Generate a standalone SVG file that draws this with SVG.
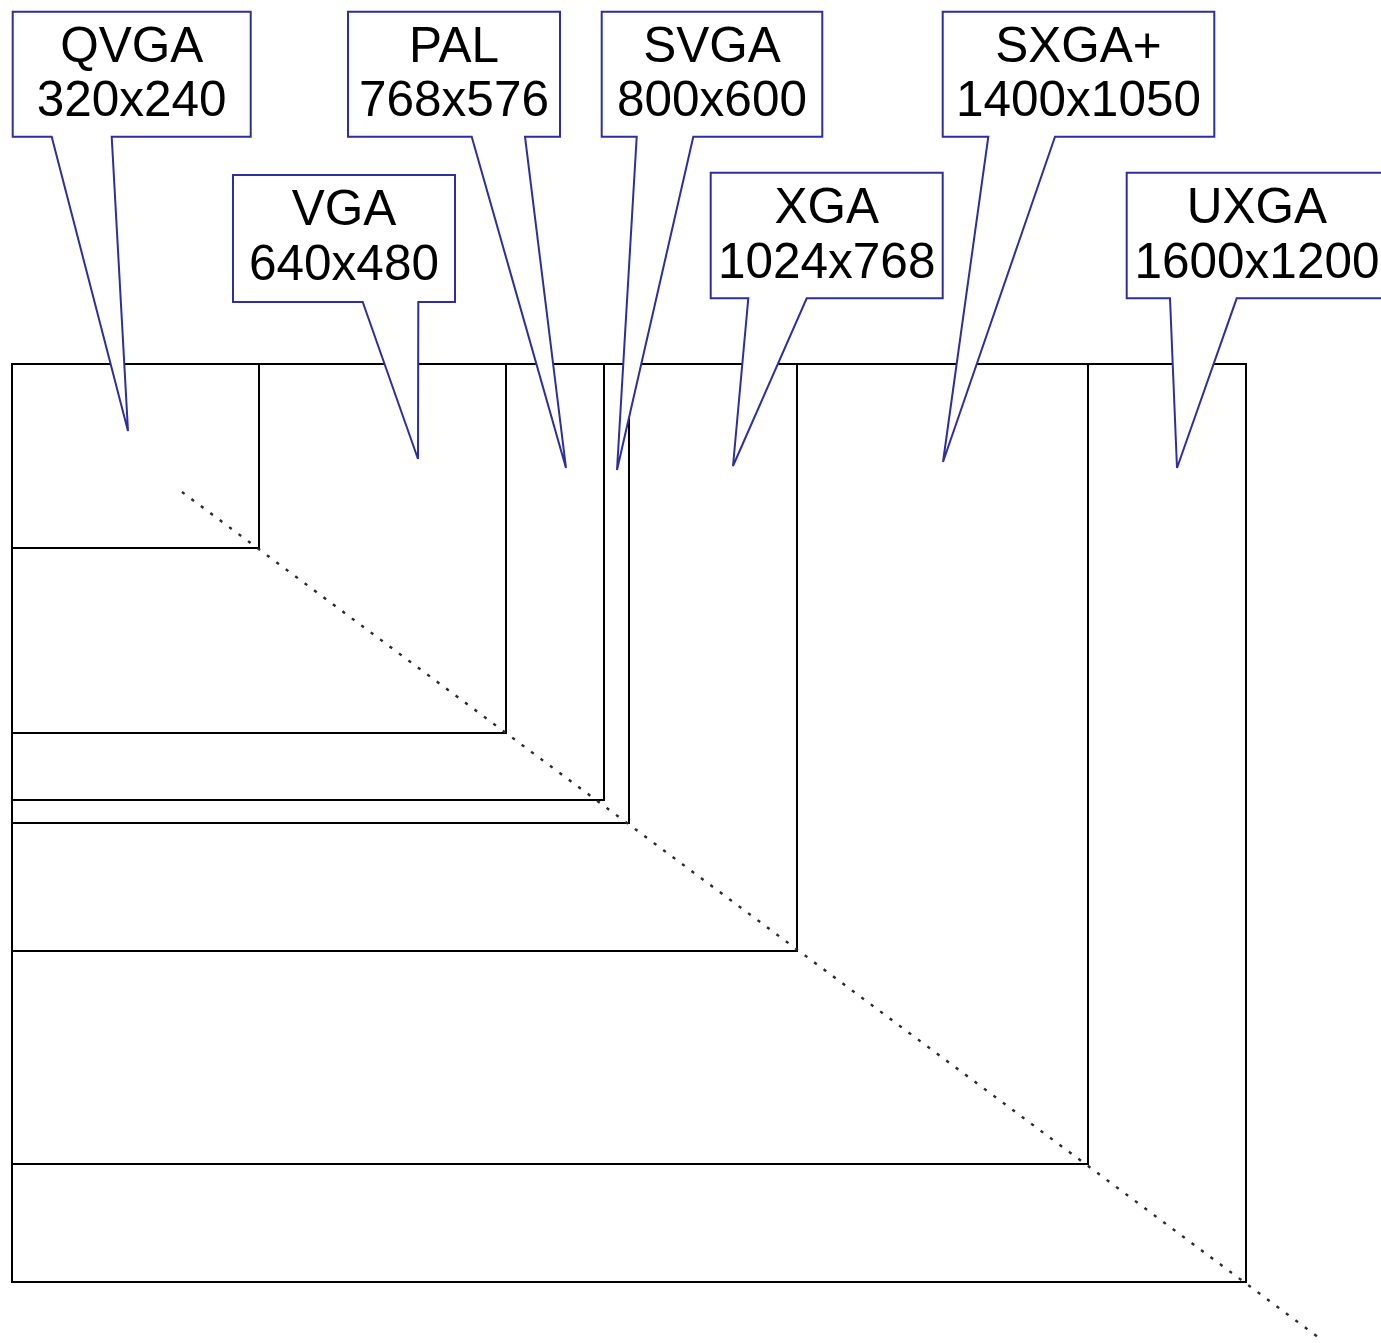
<svg xmlns="http://www.w3.org/2000/svg" width="1381" height="1343" viewBox="0 0 1381 1343">
<style>
.res{fill:none;stroke:#000;stroke-width:2}
.call{fill:#fff;stroke:#2e2e9c;stroke-width:2;stroke-linejoin:miter}
.lbl{font-family:"Liberation Sans",Arial,sans-serif;font-size:49.5px;fill:#000;text-anchor:middle}
.diag{fill:none;stroke:#2a2a2a;stroke-width:2.4;stroke-dasharray:3.2 8.56}
</style>
<rect width="1381" height="1343" fill="#fff"/>
<g id="rects">
<rect id="r-uxga" class="res" x="12" y="364" width="1234" height="918"/>
<rect id="r-sxga" class="res" x="12" y="364" width="1076" height="800"/>
<rect id="r-xga" class="res" x="12" y="364" width="785" height="587"/>
<rect id="r-svga" class="res" x="12" y="364" width="617" height="459"/>
<rect id="r-pal" class="res" x="12" y="364" width="592" height="436"/>
<rect id="r-vga" class="res" x="12" y="364" width="494" height="369"/>
<rect id="r-qvga" class="res" x="12" y="364" width="247" height="184"/>
</g>
<g id="connectors">
<line class="diag" x1="182" y1="492" x2="1322" y2="1340"/>
</g>
<g id="qvga">
<path class="call" d="M12.7 11.7H250.7V136.7H111.7L128 431L51.7 136.7H12.7Z"/>
<text class="lbl" x="131.7" y="61.7">QVGA</text>
<text class="lbl" x="131.7" y="116">320x240</text>
</g>
<g id="vga">
<path class="call" d="M233 175H455V302H418.3L418 459L362.7 302H233Z"/>
<text class="lbl" x="344" y="225">VGA</text>
<text class="lbl" x="344" y="279.5">640x480</text>
</g>
<g id="pal">
<path class="call" d="M348 11.7H560V136.7H525L566 468L471.7 136.7H348Z"/>
<text class="lbl" x="454" y="61.7">PAL</text>
<text class="lbl" x="454" y="116">768x576</text>
</g>
<g id="svga">
<path class="call" d="M601.7 11.7H822.3V136.7H693.3L617 470L636.7 136.7H601.7Z"/>
<text class="lbl" x="712" y="61.7">SVGA</text>
<text class="lbl" x="712" y="116">800x600</text>
</g>
<g id="xga">
<path class="call" d="M710.7 172.7H942.7V298.3H806.7L733 466L748.3 298.3H710.7Z"/>
<text class="lbl" x="826.7" y="222.7">XGA</text>
<text class="lbl" x="826.7" y="278">1024x768</text>
</g>
<g id="sxga">
<path class="call" d="M942.7 11.7H1214.3V136.7H1055L943 462L988.3 136.7H942.7Z"/>
<text class="lbl" x="1078.5" y="61.7">SXGA+</text>
<text class="lbl" x="1078.5" y="116">1400x1050</text>
</g>
<g id="uxga">
<path class="call" d="M1126.7 172.7H1387V298.3H1236.7L1177 468L1170 298.3H1126.7Z"/>
<text class="lbl" x="1257" y="222.7">UXGA</text>
<text class="lbl" x="1257" y="278">1600x1200</text>
</g>
</svg>
